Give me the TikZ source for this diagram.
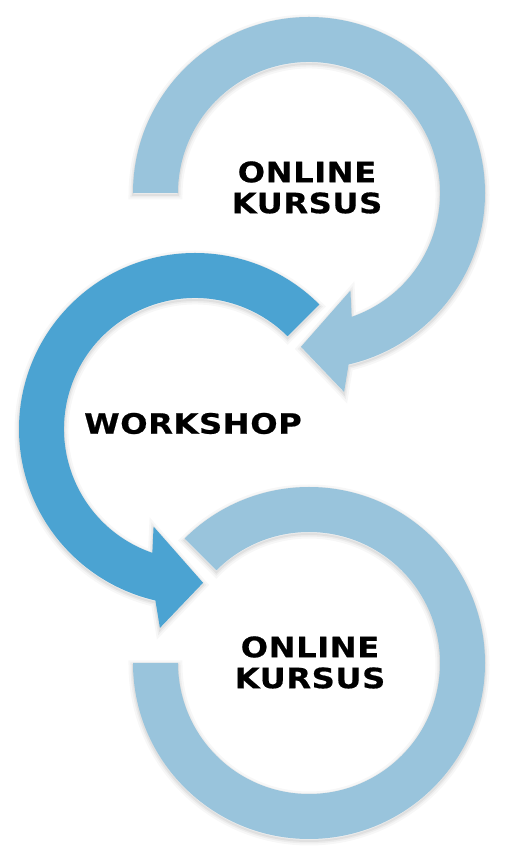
\documentclass[tikz,border=0pt]{standalone}
\usepackage{fontspec}
\newfontfamily\lblfont[FakeStretch=1.15,LetterSpace=2,FakeBold=0.6]{DejaVu Sans Bold}
\definecolor{ringlight}{RGB}{153,196,220}
\definecolor{ringdark}{RGB}{75,163,210}
\begin{document}
\begin{tikzpicture}[x=1pt,y=1pt,
  halo/.style={preaction={draw=black,draw opacity=0.03,line width=9pt,transform canvas={yshift=-2pt}},
               preaction={draw=black,draw opacity=0.04,line width=5pt,transform canvas={yshift=-2pt}},
               preaction={draw=black,draw opacity=0.05,line width=2pt,transform canvas={yshift=-2pt}}},
  lightring/.style={halo,fill=ringlight},
  darkring/.style={halo,fill=ringdark},
  lbl/.style={font=\lblfont\fontsize{28}{31}\selectfont,align=center,inner sep=0pt,text=black}]
\useasboundingbox (0,0) rectangle (508,862);
\fill[white] (0,0) rectangle (508,862);
% bottom ring
\begin{scope}[shift={(309,199)}]
\fill[lightring] (180:176) arc[start angle=180,end angle=495,radius=176]
  -- (495:131) arc[start angle=495,end angle=180,radius=131] -- cycle;
\end{scope}
% middle arrow
\begin{scope}[shift={(195,433)}]
\fill[darkring] (45:176) arc[start angle=45,end angle=257,radius=176]
  -- (260:202) -- (273:154) -- (247:106) -- (251:131)
  arc[start angle=251,end angle=45,radius=131] -- cycle;
\end{scope}
% top arrow
\begin{scope}[shift={(309,669)}]
\fill[lightring] (180:176) arc[start angle=180,end angle=-77,radius=176]
  -- (-80:202) -- (-93:154) -- (-67:106) -- (-71:131)
  arc[start angle=-71,end angle=180,radius=131] -- cycle;
\end{scope}
\node[lbl] (t1) at (307,674.5) {ONLINE\\KURSUS};
\node[lbl] (t2) at (193,438.5) {WORKSHOP};
\node[lbl] (t3) at (310,199.5) {ONLINE\\KURSUS};
\end{tikzpicture}
\end{document}
